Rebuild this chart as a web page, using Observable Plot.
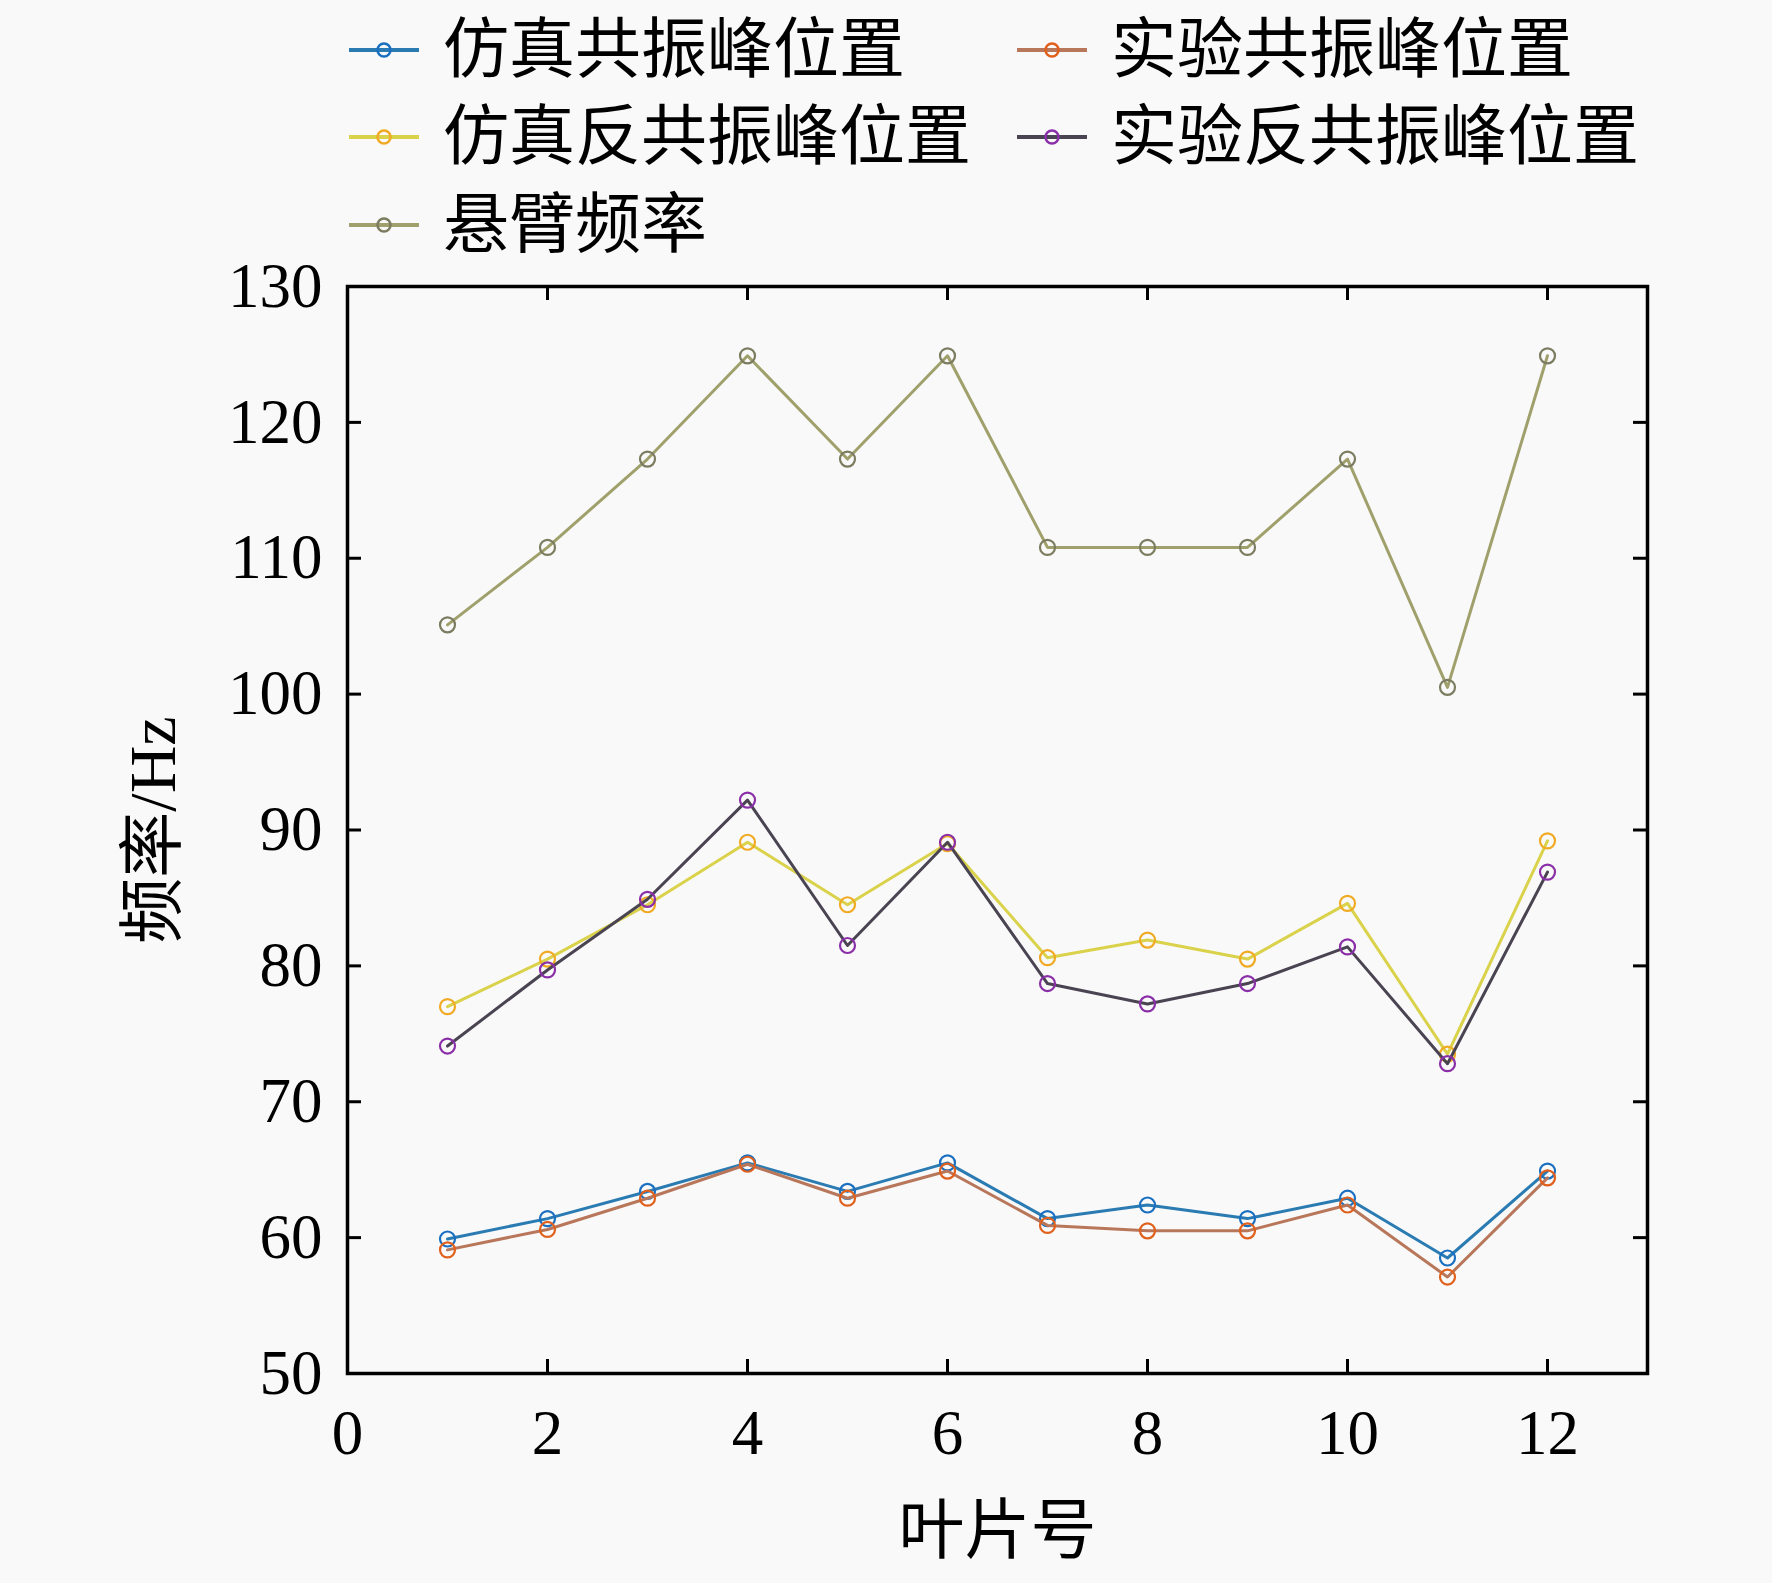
<!DOCTYPE html>
<html>
<head>
<meta charset="utf-8">
<script src="https://cdn.jsdelivr.net/npm/d3@7"></script>
<script src="https://cdn.jsdelivr.net/npm/@observablehq/plot@0.6"></script>
<style>
  html, body { margin: 0; padding: 0; background: #f9f9f9; }
  body { width: 1772px; height: 1583px; overflow: hidden; font-family: "Liberation Serif", "Noto Sans CJK SC", serif; }
  #legend { position: relative; width: 1772px; height: 250px; }
  .item { position: absolute; height: 80px; display: flex; align-items: center; font-size: 66px; line-height: 1; color: #000; white-space: nowrap; }
  .item svg { margin-right: 24px; flex: none; }
  #chart svg { display: block; }
</style>
</head>
<body>
<div id="legend"></div>
<div id="chart"></div>
<script>
// ---- data ----
const blades = [1, 2, 3, 4, 5, 6, 7, 8, 9, 10, 11, 12];
const simResonance     = [59.9, 61.4, 63.4, 65.5, 63.4, 65.5, 61.4, 62.4, 61.4, 62.9, 58.5, 64.9];
const expResonance     = [59.1, 60.6, 62.9, 65.4, 62.9, 64.9, 60.9, 60.5, 60.5, 62.4, 57.1, 64.4];
const simAntiResonance = [77.0, 80.5, 84.5, 89.1, 84.5, 89.0, 80.6, 81.9, 80.5, 84.6, 73.5, 89.2];
const expAntiResonance = [74.1, 79.7, 84.9, 92.2, 81.5, 89.1, 78.7, 77.2, 78.7, 81.4, 72.8, 86.9];
const cantilever       = [105.1, 110.8, 117.3, 124.9, 117.3, 124.9, 110.8, 110.8, 110.8, 117.3, 100.5, 124.9];

const seriesNames = ["仿真共振峰位置", "实验共振峰位置", "仿真反共振峰位置", "实验反共振峰位置", "悬臂频率"];
const seriesValues = [simResonance, expResonance, simAntiResonance, expAntiResonance, cantilever];
const lineColors   = ["#2b7bb3", "#b8765a", "#d9d24a", "#4a4452", "#a0a06c"];
const markerColors = ["#1a6fc0", "#e0601c", "#f0aa24", "#8a2fa8", "#7c7c60"];

const xTicks = [0, 2, 4, 6, 8, 10, 12];
const yTicks = [50, 60, 70, 80, 90, 100, 110, 120, 130];
const xInnerTicks = [2, 4, 6, 8, 10, 12];
const yInnerTicks = [60, 70, 80, 90, 100, 110, 120];
const xLabel = ["叶片号"];
const yLabel = ["频率/Hz"];

// ---- legend ----
const legendPos = [
  {left: 349, top: 10}, {left: 1017, top: 10},
  {left: 349, top: 97}, {left: 1017, top: 97},
  {left: 349, top: 185}
];
const legend = document.getElementById("legend");
seriesNames.forEach((name, i) => {
  const div = document.createElement("div");
  div.className = "item";
  div.style.left = legendPos[i].left + "px";
  div.style.top = legendPos[i].top + "px";
  div.innerHTML =
    `<svg width="70" height="20" viewBox="0 0 70 20">
       <line x1="0" y1="10" x2="70" y2="10" stroke="${lineColors[i]}" stroke-width="4"/>
       <circle cx="35" cy="10" r="6.5" fill="none" stroke="${markerColors[i]}" stroke-width="2.5"/>
     </svg><span>${name}</span>`;
  legend.appendChild(div);
});

// ---- chart ----
const W = 1772, H = 1333;
const mTop = 36, mBottom = 210, mLeft = 347, mRight = 125;
const plotW = W - mLeft - mRight, plotH = H - mTop - mBottom;
const tickLen = 14;

const seriesMarks = [];
seriesNames.forEach((name, i) => {
  const rows = blades.map((b, j) => ({blade: b, freq: seriesValues[i][j], series: name}));
  seriesMarks.push(Plot.line(rows, {x: "blade", y: "freq", stroke: lineColors[i], strokeWidth: 3}));
  seriesMarks.push(Plot.dot(rows, {x: "blade", y: "freq", r: 7.5, stroke: markerColors[i], strokeWidth: 2.2, fill: "none"}));
});

const chart = Plot.plot({
  width: W, height: H,
  marginTop: mTop, marginBottom: mBottom, marginLeft: mLeft, marginRight: mRight,
  style: {background: "transparent", fontFamily: "'Liberation Serif', 'Noto Sans CJK SC', serif", color: "#000", overflow: "visible"},
  x: {domain: [0, 13], label: null},
  y: {domain: [50, 130], label: null},
  marks: [
    ...seriesMarks,
    Plot.axisX(xTicks, {anchor: "bottom", tickSize: 0, tickPadding: 36, fontSize: 63, label: null, tickFormat: d => String(d)}),
    Plot.axisY(yTicks, {anchor: "left", tickSize: 0, tickPadding: 25, fontSize: 63, label: null, tickFormat: d => String(d)}),
    Plot.tickX(xInnerTicks, {x: d => d, insetTop: plotH - tickLen, stroke: "#000", strokeWidth: 3}),
    Plot.tickX(xInnerTicks, {x: d => d, insetBottom: plotH - tickLen, stroke: "#000", strokeWidth: 3}),
    Plot.tickY(yInnerTicks, {y: d => d, insetRight: plotW - tickLen, stroke: "#000", strokeWidth: 3}),
    Plot.tickY(yInnerTicks, {y: d => d, insetLeft: plotW - tickLen, stroke: "#000", strokeWidth: 3}),
    Plot.frame({stroke: "#000", strokeWidth: 3.5}),
    Plot.text(xLabel, {text: d => d, frameAnchor: "bottom", lineAnchor: "middle", dy: 158, fontSize: 66, fill: "#000"}),
    Plot.text(yLabel, {text: d => d, frameAnchor: "left", textAnchor: "middle", lineAnchor: "middle", dx: -194, rotate: -90, fontSize: 66, fill: "#000"})
  ]
});
document.getElementById("chart").appendChild(chart);
</script>
</body>
</html>
